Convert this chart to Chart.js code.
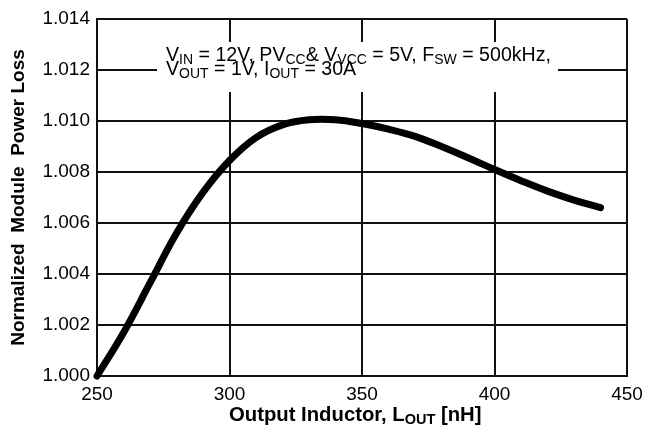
<!DOCTYPE html>
<html>
<head>
<meta charset="utf-8">
<script src="https://cdn.jsdelivr.net/npm/chart.js@4"></script>
<style>
  html, body { margin: 0; padding: 0; background: #fff; }
  #wrap { width: 646px; height: 428px; }
</style>
</head>
<body>
<div id="wrap"><canvas id="loss_chart" width="646" height="428"></canvas></div>
<script>
// Output inductance (nH) and normalized module power loss
var inductance = [250, 260, 270, 280, 290, 300, 310, 320, 330, 340, 350, 360, 370, 380, 390, 400, 410, 420, 430, 440];
var powerLoss = [1.0000, 1.0017, 1.00365, 1.0056, 1.0072, 1.00845, 1.00935, 1.00985, 1.01005, 1.01005, 1.0099, 1.00968, 1.0094, 1.0090, 1.00856, 1.0081, 1.00766, 1.00725, 1.0069, 1.0066];

// Conditions note, split into normal / subscript runs
var noteLine1 = [["V", false], ["IN", true], [" = 12V, PV", false], ["CC", true], ["& V", false], ["VCC", true], [" = 5V, F", false], ["SW", true], [" = 500kHz,", false]];
var noteLine2 = [["V", false], ["OUT", true], [" = 1V, I", false], ["OUT", true], [" = 30A", false]];
var xTitle = [["Output Inductor, L", false], ["OUT", true], [" [nH]", false]];

var FONT = '"Liberation Sans", Arial, Helvetica, sans-serif';

function drawRuns(ctx, runs, x, y, size, subSize, weight) {
    runs.forEach(function (r) {
        ctx.font = weight + ' ' + (r[1] ? subSize : size) + 'px ' + FONT;
        ctx.fillText(r[0], x, r[1] ? y + 3 : y);
        x += ctx.measureText(r[0]).width;
    });
    return x;
}

var notePlugin = {
    id: 'notePlugin',
    afterDatasetsDraw: function (chart) {
        var ctx = chart.ctx;
        ctx.save();
        // white patch behind the note
        ctx.fillStyle = '#fff';
        ctx.fillRect(157, 42, 401, 50);
        ctx.fillStyle = '#000';
        ctx.textBaseline = 'alphabetic';
        ctx.textAlign = 'left';
        drawRuns(ctx, noteLine1, 166, 61, 19.6, 14, 'normal');
        drawRuns(ctx, noteLine2, 166, 75, 19.6, 14, 'normal');

        // x axis title with subscript
        drawRuns(ctx, xTitle, 229, 421, 20.3, 14.5, 'bold');
        ctx.restore();
    }
};

var ctx = document.getElementById('loss_chart');

var lossChart = new Chart(ctx, {
    type: 'line',
    data: {
        datasets: [{
            data: inductance.map(function (l, i) { return { x: l, y: powerLoss[i] }; }),
            borderColor: '#000',
            borderWidth: 7,
            borderCapStyle: 'round',
            borderJoinStyle: 'round',
            pointRadius: 0,
            tension: 0.4,
            fill: false,
            clip: false
        }]
    },
    options: {
        responsive: false,
        animation: false,
        layout: { padding: { top: 19, right: 19, left: 0, bottom: 0 } },
        plugins: {
            legend: { display: false },
            tooltip: { enabled: false }
        },
        scales: {
            x: {
                type: 'linear',
                min: 250,
                max: 450,
                afterFit: function (scale) {
                    scale.height = 52;
                    scale.paddingRight = 0;
                },
                ticks: {
                    stepSize: 50,
                    color: '#000',
                    padding: 7,
                    maxRotation: 0,
                    font: { family: FONT, size: 19 }
                },
                grid: { color: '#111', lineWidth: 2, drawTicks: false },
                border: { color: '#111', width: 2 }
            },
            y: {
                min: 1.000,
                max: 1.014,
                afterFit: function (scale) { scale.width = 97; },
                ticks: {
                    stepSize: 0.002,
                    color: '#000',
                    padding: 7,
                    font: { family: FONT, size: 19 },
                    callback: function (v) { return v.toFixed(3); }
                },
                grid: { color: '#111', lineWidth: 2, drawTicks: false },
                border: { color: '#111', width: 2 },
                title: {
                    display: true,
                    text: 'Normalized  Module  Power Loss',
                    color: '#000',
                    padding: { top: 7, bottom: 0 },
                    font: { family: FONT, size: 19, weight: 'bold' }
                }
            }
        }
    },
    plugins: [notePlugin]
});
</script>
</body>
</html>
